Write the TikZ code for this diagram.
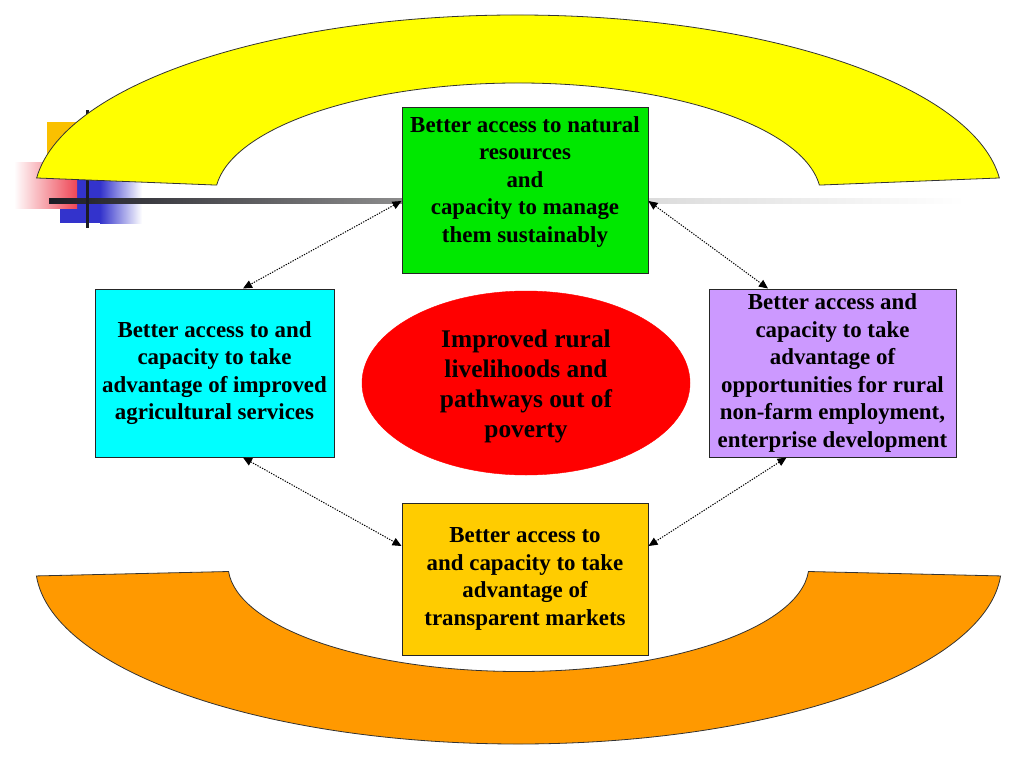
\documentclass[tikz,border=0pt]{standalone}
\usepackage{fontspec}
\setmainfont{Liberation Serif}
\usetikzlibrary{arrows.meta,shapes.geometric,calc}
\definecolor{arcyellow}{RGB}{255,255,0}
\definecolor{arcorange}{RGB}{255,153,0}
\definecolor{boxgreen}{RGB}{0,232,0}
\definecolor{boxcyan}{RGB}{0,255,255}
\definecolor{boxpurple}{RGB}{204,153,255}
\definecolor{boxgold}{RGB}{255,204,0}
\definecolor{ovalred}{RGB}{255,0,0}
\definecolor{decgold}{RGB}{250,192,0}
\definecolor{decpink}{RGB}{238,70,85}
\definecolor{decblue}{RGB}{51,51,204}
\definecolor{decline}{RGB}{28,28,36}
\begin{document}
\begin{tikzpicture}[x=1pt,y=1pt,
  box/.style={draw=black!85, line width=1pt, rectangle, inner sep=0pt},
  txt/.style={align=center, font=\fontsize{22.9}{27.5}\selectfont\bfseries, text=black},
  bandarc/.style={draw=black!80, line width=0.8pt},
  duallink/.style={draw=black, line width=1pt, dash pattern=on 1.3pt off 1.3pt,
    {Triangle[length=9pt,width=8pt]}-{Triangle[length=9pt,width=8pt]}}
]
\useasboundingbox (0,0) rectangle (1024,-768);
\fill[white] (0,0) rectangle (1024,-768);

% template decoration
\fill[decgold] (47,-122) rectangle (80,-175);
\fill[decblue] (60,-180) rectangle (100,-223);
\shade[left color=decblue, right color=white] (100,-180) rectangle (142,-223);
\shade[left color=white, right color=decpink] (14,-162) rectangle (77,-208);
\shade[left color=decline, right color=black!45] (49,-198.5) rectangle (402,-203.5);
\shade[left color=black!14, right color=white] (648,-198.5) rectangle (965,-203.5);
\fill[decline] (85.5,-110) rectangle (88.5,-228);

% yellow band
\coordinate (ya) at (518,-197);
\draw[bandarc, fill=arcyellow] ($(ya)+(174:484pt and 182pt)$)
  arc[start angle=174, end angle=6, x radius=484pt, y radius=182pt]
  -- ($(ya)+(6:303pt and 114pt)$)
  arc[start angle=6, end angle=174, x radius=303pt, y radius=114pt] -- cycle;

% orange band
\coordinate (oa) at (518.5,-565);
\draw[bandarc, fill=arcorange] ($(oa)+(183.5:483pt and 179pt)$)
  arc[start angle=183.5, end angle=356.5, x radius=483pt, y radius=179pt]
  -- ($(oa)+(356.5:290.5pt and 106.5pt)$)
  arc[start angle=356.5, end angle=183.5, x radius=290.5pt, y radius=106.5pt] -- cycle;

% boxes
\node[box, fill=boxgreen, minimum width=246pt, minimum height=166pt] (green) at (525,-190) {};
\node[txt] (greentext) at (525,-182) {Better access to natural\\resources\\and\\capacity to manage\\them sustainably};
\node[box, fill=boxcyan, minimum width=239pt, minimum height=168pt, txt] (cyan) at (214.5,-373)
  {Better access to and\\capacity to take\\advantage of improved\\agricultural services};
\node[box, fill=boxpurple, minimum width=247pt, minimum height=168pt, txt] (purple) at (832.5,-373)
  {Better access and\\capacity to take\\advantage of\\opportunities for rural\\non-farm employment,\\enterprise development};
\node[box, fill=boxgold, minimum width=246pt, minimum height=152pt, txt] (market) at (525,-579)
  {Better access to\\and capacity to take\\advantage of\\transparent markets};
\node[ellipse, fill=ovalred, draw=ovalred, minimum width=328pt, minimum height=184pt, inner sep=0pt] (core) at (526,-383) {};
\node[align=center, font=\fontsize{25.4}{30}\selectfont\bfseries] (coretext) at (526,-386)
  {Improved rural\\livelihoods and\\pathways out of\\poverty};

% connectors
\draw[duallink] ([yshift=-11pt]green.west) -- ([xshift=28.5pt]cyan.north);
\draw[duallink] ([yshift=-11pt]green.east) -- ([xshift=-64.5pt]purple.north);
\draw[duallink] ([xshift=28.5pt]cyan.south) -- ([yshift=33pt]market.west);
\draw[duallink] ([xshift=-46pt]purple.south) -- ([yshift=33pt]market.east);
\end{tikzpicture}
\end{document}
